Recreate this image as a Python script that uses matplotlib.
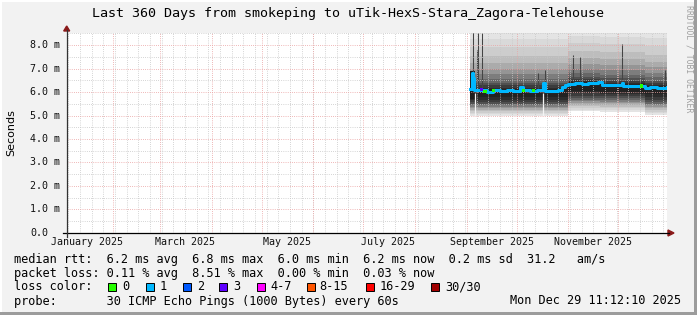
import numpy as np
import pandas as pd
import matplotlib
matplotlib.use("Agg")
import matplotlib.pyplot as plt
import matplotlib.transforms as mtrans
from matplotlib.patches import Rectangle, Polygon

# figure size in pixels
W, H = 697, 315

# time window of the graph
t_start = pd.Timestamp("2025-01-03 22:00")
t_end = pd.Timestamp("2025-12-29 22:00")

# median rtt [ms] (step values)
med_dates = ["2025-09-03", "2025-09-04", "2025-09-04 18:00", "2025-09-05 12:00", "2025-09-10",
             "2025-09-13", "2025-09-17", "2025-09-21", "2025-09-25", "2025-09-29",
             "2025-10-03", "2025-10-05", "2025-10-09", "2025-10-13", "2025-10-17",
             "2025-10-18", "2025-10-22", "2025-10-26", "2025-10-28", "2025-10-30",
             "2025-11-01", "2025-11-05", "2025-11-09", "2025-11-13", "2025-11-17",
             "2025-11-19", "2025-11-21", "2025-11-25", "2025-11-29", "2025-12-03",
             "2025-12-04", "2025-12-08", "2025-12-12", "2025-12-17", "2025-12-20",
             "2025-12-24", "2025-12-29 22:00"]
med_vals = [6.13, 6.82, 6.60, 6.09, 6.07, 6.02, 6.07, 6.05, 6.09, 6.06,
            6.20, 6.07, 6.05, 6.08, 6.37, 6.05, 6.04, 6.07, 6.20, 6.30,
            6.36, 6.38, 6.35, 6.39, 6.37, 6.42, 6.30, 6.28, 6.31, 6.38,
            6.27, 6.26, 6.24, 6.17, 6.22, 6.19, 6.21]

# median points with other loss colour
loss_pt_dates = ["2025-09-10", "2025-09-12", "2025-09-17", "2025-10-05", "2025-10-11", "2025-12-15"]
loss_pt_vals = [6.09, 6.02, 6.06, 6.07, 6.06, 6.26]
loss_pt_cols = ["#5e00ff", "#26ff00", "#26ff00", "#26ff00", "#26ff00", "#26ff00"]

# smoke: segment start dates, gray levels (light -> dark), band edges per segment
smoke_dates = ["2025-09-03", "2025-11-01", "2025-11-20", "2025-12-17", "2025-12-29 22:00"]
smoke_cols = ["#e4e4e4", "#d9d9d9", "#cdcdcd", "#bdbdbd", "#ababab", "#959595",
              "#7d7d7d", "#666666", "#505050", "#3c3c3c", "#2c2c2c", "#222222"]
smoke_lo = [
    [5.00, 5.06, 5.12, 5.18, 5.24, 5.30, 5.36, 5.43, 5.50, 5.58, 5.68, 5.80],  # Sep-Oct
    [5.18, 5.25, 5.32, 5.39, 5.46, 5.53, 5.60, 5.68, 5.76, 5.85, 5.95, 6.06],  # early Nov
    [5.17, 5.24, 5.31, 5.38, 5.45, 5.52, 5.59, 5.66, 5.74, 5.82, 5.92, 6.02],  # late Nov
    [5.03, 5.09, 5.16, 5.23, 5.30, 5.37, 5.44, 5.51, 5.59, 5.68, 5.78, 5.90],  # late Dec
]
smoke_hi = [
    [8.60, 8.25, 7.90, 7.55, 7.25, 6.98, 6.75, 6.55, 6.40, 6.28, 6.18, 6.12],
    [8.60, 8.40, 8.10, 7.75, 7.45, 7.20, 6.98, 6.80, 6.65, 6.55, 6.47, 6.42],
    [8.60, 8.35, 8.05, 7.70, 7.40, 7.14, 6.92, 6.74, 6.59, 6.48, 6.40, 6.35],
    [8.60, 8.30, 7.95, 7.60, 7.30, 7.05, 6.82, 6.63, 6.48, 6.37, 6.29, 6.24],
]

# first days: dark burst
burst_dates = ["2025-09-03", "2025-09-06"]
burst_lo = [5.70, 5.70]
burst_hi = [6.90, 6.90]

# single spikes of the smoke
spike_dates = ["2025-09-05", "2025-09-07", "2025-09-08", "2025-09-10", "2025-10-14",
               "2025-10-18", "2025-11-04", "2025-11-08", "2025-12-03", "2025-12-29"]
spike_lo = [6.1, 6.1, 6.1, 6.1, 6.1, 6.1, 6.4, 6.4, 6.4, 6.3]
spike_hi = [8.6, 7.79, 8.6, 8.6, 6.80, 6.94, 7.57, 7.50, 8.03, 6.94]

# gaps in the smoke
gap_dates = ["2025-09-06", "2025-10-17"]
gap_lo = [5.0, 5.0]
gap_hi = [5.95, 5.95]

y_ticks = [0, 1, 2, 3, 4, 5, 6, 7, 8]
y_labels = ["0.0", "1.0 m", "2.0 m", "3.0 m", "4.0 m", "5.0 m", "6.0 m", "7.0 m", "8.0 m"]
x_label_dates = ["2025-01-16", "2025-03-16", "2025-05-16", "2025-07-16", "2025-09-16", "2025-11-16"]
x_labels = ["January 2025", "March 2025", "May 2025", "July 2025", "September 2025", "November 2025"]

legend_names = ["0", "1", "2", "3", "4-7", "8-15", "16-29", "30/30"]
legend_cols = ["#26ff00", "#00b8ff", "#0059ff", "#5e00ff", "#ff00ff", "#ff5500", "#ff0000", "#a00000"]


def to_dt(v):
    return pd.to_datetime(v, format="mixed")


MONO = "DejaVu Sans Mono"
fig = plt.figure(figsize=(W / 100, H / 100), dpi=100, facecolor="#f2f2f2")

x0, x1 = 66.5, 666.5
y_top, y_bot = 33.4, 232.8
ax = fig.add_axes([x0 / W, 1 - y_bot / H, (x1 - x0) / W, (y_bot - y_top) / H])
ax.set_facecolor("white")
ax.set_xlim(t_start, t_end)
ax.set_ylim(0, 8.5)
for s in ax.spines.values():
    s.set_visible(False)
ax.set_xticks([])
ax.set_yticks([])

# smoke
sd = to_dt(smoke_dates)
lo_arr = np.array(smoke_lo)
hi_arr = np.array(smoke_hi)
for i, col in enumerate(smoke_cols):
    lo = list(lo_arr[:, i]) + [lo_arr[-1, i]]
    hi = list(hi_arr[:, i]) + [hi_arr[-1, i]]
    ax.fill_between(sd, lo, hi, step="post", color=col, lw=0, zorder=1)
ax.fill_between(to_dt(burst_dates), burst_lo, burst_hi, step="post", color="#1e1e1e", lw=0, zorder=2)
ax.vlines(to_dt(spike_dates), spike_lo, spike_hi, color="#444444", lw=0.75, zorder=2)
ax.vlines(to_dt(gap_dates), gap_lo, gap_hi, color="#f4f4f4", lw=0.9, zorder=2)

# grid (drawn over the smoke like rrdtool)
dash = (0, (0.72, 1.44))
for v in np.arange(0.5, 8.6, 1.0):
    ax.axhline(v, color="#c8c8c8", lw=0.72, linestyle=dash, zorder=3)
for d in pd.date_range("2025-01-05", t_end, freq="7D"):
    ax.axvline(d, color="#c8c8c8", lw=0.72, linestyle=dash, zorder=3)
for v in y_ticks[1:]:
    ax.axhline(v, color="#eba2a2", lw=0.72, linestyle=dash, zorder=3)
for d in pd.date_range("2025-02-01", t_end, freq="MS"):
    ax.axvline(d, color="#eba2a2", lw=0.72, linestyle=dash, zorder=3)

# median line
ax.step(to_dt(med_dates), med_vals, where="post", color="#00b8ff", lw=2.2, zorder=4)
ax.scatter(to_dt(loss_pt_dates), loss_pt_vals, c=loss_pt_cols, marker="s", s=5, lw=0, zorder=5)

# axis labels
ytr = mtrans.blended_transform_factory(fig.transFigure, ax.transData)
for v, lab in zip(y_ticks, y_labels):
    ax.text(30 / W, v, lab, transform=ytr, ha="left", va="center", family=MONO, size=7.2, color="#111111")
xtr = mtrans.blended_transform_factory(ax.transData, fig.transFigure)
for d, lab in zip(to_dt(x_label_dates), x_labels):
    ax.text(d, 1 - 242 / H, lab, transform=xtr, ha="center", va="center", family=MONO, size=7.2, color="#111111")


def fx(x):
    return x / W


def fy(y):
    return 1 - y / H


# axes lines and arrows
fig.add_artist(plt.Line2D([fx(63), fx(669)], [fy(233), fy(233)], color="black", lw=0.9))
fig.add_artist(plt.Line2D([fx(66.7), fx(66.7)], [fy(237), fy(30)], color="#333333", lw=0.9))
fig.add_artist(Polygon([[fx(668), fy(230)], [fx(674), fy(233)], [fx(668), fy(236)]], closed=True,
                       color="#8b1a1a", transform=fig.transFigure))
fig.add_artist(Polygon([[fx(63.7), fy(31)], [fx(66.7), fy(26)], [fx(69.7), fy(31)]], closed=True,
                       color="#8b1a1a", transform=fig.transFigure))

# title, y label, watermark
fig.text(fx(348.5), fy(14), "Last 360 Days from smokeping to uTik-HexS-Stara_Zagora-Telehouse",
         ha="center", va="center", family=MONO, size=9.6, color="black")
fig.text(fx(11), fy(133), "Seconds", rotation=90, ha="center", va="center", size=8, color="black")
fig.text(fx(688.5), fy(59), "RRDTOOL / TOBI OETIKER", rotation=270, ha="center", va="center",
         family=MONO, size=5.9, color="#a0a0a0")

# legend
lx = 14
fs = 8.6
fig.text(fx(lx), fy(259), "median rtt:  6.2 ms avg  6.8 ms max  6.0 ms min  6.2 ms now  0.2 ms sd  31.2   am/s",
         ha="left", va="center", family=MONO, size=fs)
fig.text(fx(lx), fy(273), "packet loss: 0.11 % avg  8.51 % max  0.00 % min  0.03 % now",
         ha="left", va="center", family=MONO, size=fs)
fig.text(fx(lx), fy(287), "loss color:", ha="left", va="center", family=MONO, size=fs)
box_x = [108.3, 145.7, 182.7, 219.3, 256.7, 307.3, 365.7, 431.0]
txt_x = [122.5, 160.0, 197.0, 233.5, 270.0, 319.3, 380.0, 445.0]
for bx, tx, name, col in zip(box_x, txt_x, legend_names, legend_cols):
    fig.add_artist(Rectangle((fx(bx), fy(291)), 8 / W, 8 / H, transform=fig.transFigure,
                             facecolor=col, edgecolor="black", lw=0.7))
    fig.text(fx(tx), fy(287), name, ha="left", va="center", family=MONO, size=fs)
fig.text(fx(lx), fy(301), "probe:       30 ICMP Echo Pings (1000 Bytes) every 60s",
         ha="left", va="center", family=MONO, size=fs)
fig.text(fx(680.5), fy(301), "Mon Dec 29 11:12:10 2025", ha="right", va="center", family=MONO, size=fs)

# shaded frame
fig.add_artist(Rectangle((0, 0), fx(2), 1, transform=fig.transFigure, color="white", lw=0))
fig.add_artist(Rectangle((0, fy(2)), 1, 2 / H, transform=fig.transFigure, color="white", lw=0))
fig.add_artist(Rectangle((fx(694), 0), 3 / W, 1, transform=fig.transFigure, color="#9c9c9c", lw=0))
fig.add_artist(Rectangle((0, 0), 1, 3 / H, transform=fig.transFigure, color="#9c9c9c", lw=0))

fig.savefig("out.png", dpi=100, facecolor=fig.get_facecolor())
